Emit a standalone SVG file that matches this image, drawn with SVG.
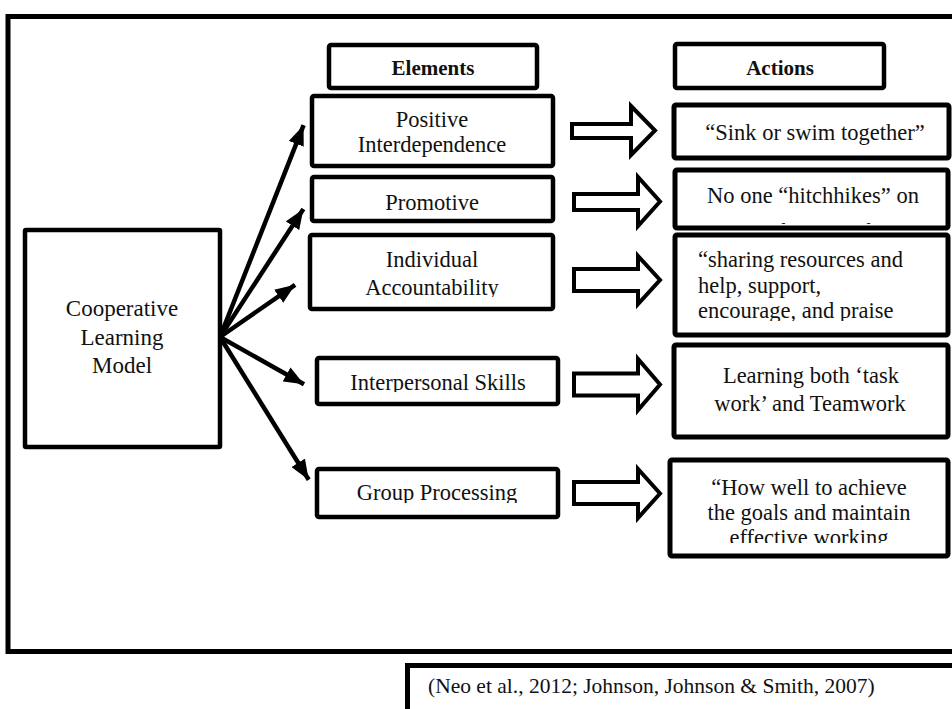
<svg xmlns="http://www.w3.org/2000/svg" width="952" height="709" viewBox="0 0 952 709">
<style>
  .t { font-family: "Liberation Serif", "Times New Roman", serif; font-size: 22.5px; fill: #111; }
  .h { font-family: "Liberation Serif", "Times New Roman", serif; font-size: 21px; font-weight: bold; fill: #111; }
  .c { text-anchor: middle; }
  .box { fill: #fff; stroke: #000; stroke-width: 4.5; }
  .abox { fill: #fff; stroke: #000; stroke-width: 5; }
  .frame { fill: none; stroke: #000; stroke-width: 5; }
  .blk { fill: #fff; stroke: #000; stroke-width: 4; stroke-linejoin: miter; }
  .con { stroke: #000; stroke-width: 4.5; fill: none; }
</style>
<defs>
  <marker id="ah" viewBox="0 0 20 16" refX="20" refY="8" markerWidth="20" markerHeight="16" markerUnits="userSpaceOnUse" orient="auto">
    <path d="M0,0 L20,8 L0,16 Z" fill="#000"/>
  </marker>
  <clipPath id="cpAcc"><rect x="312" y="237" width="240" height="60"/></clipPath>
  <clipPath id="cpInt"><rect x="319" y="360" width="237" height="32"/></clipPath>
  <clipPath id="cpGrp"><rect x="319" y="471" width="237" height="32"/></clipPath>
  <clipPath id="cpNo"><rect x="677" y="172" width="269" height="52"/></clipPath>
  <clipPath id="cpShare"><rect x="677" y="237" width="269" height="84"/></clipPath>
  <clipPath id="cpHow"><rect x="672" y="462" width="274" height="81"/></clipPath>
</defs>

<rect class="frame" x="8" y="16.5" width="970" height="635"/>

<g id="model">
  <rect class="box" x="25" y="230" width="195" height="217" rx="1"/>
  <text class="t c" x="122" y="316" style="font-size:23px">Cooperative</text>
  <text class="t c" x="122" y="345" style="font-size:23px">Learning</text>
  <text class="t c" x="122" y="373" style="font-size:23px">Model</text>
</g>

<g id="hdr-elements">
  <rect class="box" x="329" y="45" width="208" height="43" rx="2"/>
  <text class="h c" x="433" y="75">Elements</text>
</g>
<g id="hdr-actions">
  <rect class="box" x="675" y="44" width="209" height="44" rx="2"/>
  <text class="h c" x="780" y="75">Actions</text>
</g>

<g id="el-positive">
  <rect class="box" x="312" y="96" width="241" height="70" rx="2"/>
  <text class="t c" x="432" y="127">Positive</text>
  <text class="t c" x="432" y="152">Interdependence</text>
</g>
<g id="el-promotive">
  <rect class="box" x="312" y="177" width="241" height="44" rx="2"/>
  <text class="t c" x="432" y="210">Promotive</text>
</g>
<g id="el-individual">
  <rect class="box" x="310" y="235" width="243" height="74" rx="2"/>
  <text class="t c" x="432" y="267">Individual</text>
  <text class="t c" x="432" y="295" clip-path="url(#cpAcc)">Accountability</text>
</g>
<g id="el-interpersonal">
  <rect class="box" x="317" y="358" width="241" height="46" rx="2"/>
  <text class="t c" x="438" y="390" clip-path="url(#cpInt)">Interpersonal Skills</text>
</g>
<g id="el-group">
  <rect class="box" x="317" y="469" width="241" height="48" rx="2"/>
  <text class="t c" x="437" y="500" clip-path="url(#cpGrp)">Group Processing</text>
</g>

<g id="act-sink">
  <rect class="abox" x="674" y="105" width="275" height="53" rx="2"/>
  <text class="t c" x="815" y="140">“Sink or swim together”</text>
</g>
<g id="act-hitch">
  <rect class="abox" x="675" y="170" width="273" height="58" rx="2"/>
  <g clip-path="url(#cpNo)">
    <text class="t c" x="813" y="203">No one “hitchhikes” on</text>
    <text class="t c" x="810" y="239">another’s work</text>
  </g>
</g>
<g id="act-share">
  <rect class="abox" x="675" y="235" width="273" height="100" rx="2"/>
  <g clip-path="url(#cpShare)">
    <text class="t" x="698" y="267">“sharing resources and</text>
    <text class="t" x="698" y="293">help, support,</text>
    <text class="t" x="698" y="318">encourage, and praise</text>
  </g>
</g>
<g id="act-learning">
  <rect class="abox" x="674" y="345" width="274" height="92" rx="2"/>
  <text class="t c" x="811" y="383">Learning both ‘task</text>
  <text class="t c" x="810" y="411">work’ and Teamwork</text>
</g>
<g id="act-how">
  <rect class="abox" x="670" y="460" width="278" height="96" rx="2"/>
  <g clip-path="url(#cpHow)">
    <text class="t c" x="809" y="495">“How well to achieve</text>
    <text class="t c" x="809" y="520">the goals and maintain</text>
    <text class="t c" x="809" y="545">effective working</text>
  </g>
</g>

<g id="connectors">
  <line class="con" x1="220" y1="337" x2="303.6" y2="125.2" marker-end="url(#ah)"/>
  <line class="con" x1="220" y1="337" x2="303.4" y2="209.0" marker-end="url(#ah)"/>
  <line class="con" x1="220" y1="337" x2="295.1" y2="284.8" marker-end="url(#ah)"/>
  <line class="con" x1="220" y1="337" x2="304.0" y2="384.2" marker-end="url(#ah)"/>
  <line class="con" x1="220" y1="337" x2="308.7" y2="479.8" marker-end="url(#ah)"/>
  <path class="blk" d="M572,124 L631,124 L631,106 L655,130.5 L631,155 L631,138 L572,138 Z"/>
  <path class="blk" d="M574,194 L638,194 L638,177 L660,201.5 L638,226 L638,210 L574,210 Z"/>
  <path class="blk" d="M574,269 L638,269 L638,256 L660,280 L638,304 L638,291 L574,291 Z"/>
  <path class="blk" d="M574,373.5 L638,373.5 L638,359 L660,384.5 L638,410 L638,395.5 L574,395.5 Z"/>
  <path class="blk" d="M574,482 L638,482 L638,469 L660,493.5 L638,518 L638,504 L574,504 Z"/>
</g>

<g id="citation">
  <rect class="frame" x="407.5" y="665.5" width="600" height="100"/>
  <text class="t" x="428" y="693" style="font-size:21.5px">(Neo et al., 2012; Johnson, Johnson &amp; Smith, 2007)</text>
</g>
</svg>
